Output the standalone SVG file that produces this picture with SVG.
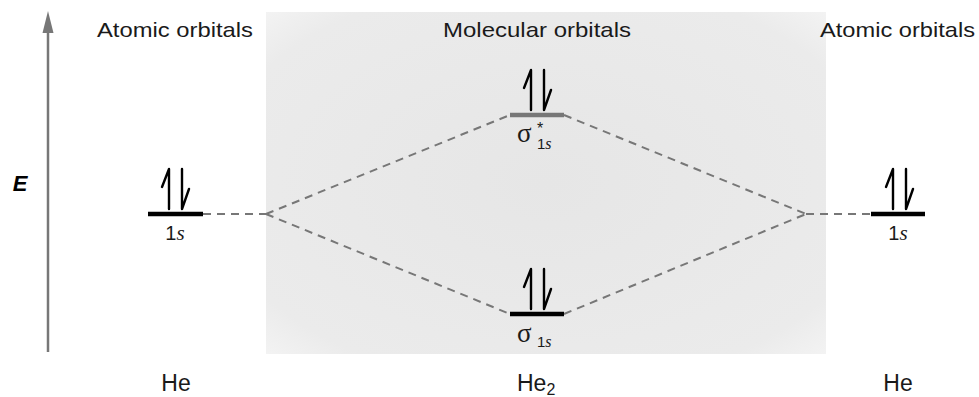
<svg xmlns="http://www.w3.org/2000/svg" width="979" height="397" viewBox="0 0 979 397">
<style>
.t{font-family:"Liberation Sans",Arial,sans-serif;font-size:21px;fill:#1a1a1a}
.lbl{font-family:"Liberation Sans",Arial,sans-serif;font-size:20px;fill:#1a1a1a}
.he{font-family:"Liberation Sans",Arial,sans-serif;font-size:23px;fill:#1a1a1a}
.dash{stroke:#777;stroke-width:2;stroke-dasharray:8,6;fill:none}
.lvl{stroke:#000;stroke-width:4.5}
.spin{stroke:#000;stroke-width:2.4;fill:none;stroke-linecap:round;stroke-linejoin:round}
.it{font-family:"Liberation Serif",serif;font-style:italic}
</style>
<defs>
<radialGradient id="pg" cx="0.5" cy="0.5" r="0.75">
<stop offset="0" stop-color="#e6e6e6"/>
<stop offset="0.8" stop-color="#ebebeb"/>
<stop offset="1" stop-color="#f6f6f6"/>
</radialGradient>
<g id="pair">
<path class="spin" d="M-6,-3 L-6,-43 L-13,-25"/>
<path class="spin" d="M7,-43 L7,-3 L14,-23"/>
</g>
</defs>
<rect x="0" y="0" width="979" height="397" fill="#fff"/>
<g id="panel"><rect x="266" y="12" width="560" height="342" fill="url(#pg)"/></g>
<g id="axis">
<line x1="48" y1="352" x2="48" y2="26" stroke="#777" stroke-width="2.5"/>
<path d="M42.5,33 L48,11 L53.5,33 Z" fill="#777"/>
<text x="20" y="191" font-family="Liberation Sans,Arial,sans-serif" font-size="22" font-weight="bold" font-style="italic" text-anchor="middle">E</text>
</g>
<g id="headers">
<text class="t" x="97" y="37" textLength="156" lengthAdjust="spacingAndGlyphs">Atomic orbitals</text>
<text class="t" x="443" y="37" textLength="188" lengthAdjust="spacingAndGlyphs">Molecular orbitals</text>
<text class="t" x="820" y="37" textLength="155" lengthAdjust="spacingAndGlyphs">Atomic orbitals</text>
</g>
<g id="connectors">
<line class="dash" x1="203" y1="214" x2="266" y2="214"/>
<line class="dash" x1="266" y1="214" x2="510" y2="115"/>
<line class="dash" x1="266" y1="214" x2="510" y2="314"/>
<line class="dash" x1="564" y1="115" x2="806" y2="214"/>
<line class="dash" x1="564" y1="314" x2="806" y2="214"/>
<line class="dash" x1="806" y1="214" x2="871" y2="214"/>
</g>
<g id="he-left-1s">
<line class="lvl" x1="148" y1="214" x2="203" y2="214"/>
<use href="#pair" x="175" y="212"/>
<text class="lbl" x="175" y="240" text-anchor="middle">1<tspan class="it" font-size="21">s</tspan></text>
</g>
<g id="sigma-star">
<line x1="510" y1="115" x2="564" y2="115" stroke="#777" stroke-width="4.5"/>
<use href="#pair" x="537" y="113"/>
<text x="517" y="142" font-family="Liberation Serif,serif" font-size="27" fill="#1a1a1a">σ</text>
<text x="537" y="134" font-family="Liberation Sans,Arial,sans-serif" font-size="16" fill="#1a1a1a">*</text>
<text x="537" y="149" font-family="Liberation Sans,Arial,sans-serif" font-size="15" fill="#1a1a1a">1<tspan class="it" font-size="16">s</tspan></text>
</g>
<g id="sigma">
<line class="lvl" x1="510" y1="314" x2="564" y2="314"/>
<use href="#pair" x="537" y="312"/>
<text x="517" y="342" font-family="Liberation Serif,serif" font-size="27" fill="#1a1a1a">σ</text>
<text x="537" y="347" font-family="Liberation Sans,Arial,sans-serif" font-size="15" fill="#1a1a1a">1<tspan class="it" font-size="16">s</tspan></text>
</g>
<g id="he-right-1s">
<line class="lvl" x1="871" y1="214" x2="925" y2="214"/>
<use href="#pair" x="899" y="212"/>
<text class="lbl" x="898" y="240" text-anchor="middle">1<tspan class="it" font-size="21">s</tspan></text>
</g>
<g id="species">
<text class="he" x="176" y="391" text-anchor="middle">He</text>
<text class="he" x="517" y="391">He<tspan dy="4" font-size="16">2</tspan></text>
<text class="he" x="898" y="391" text-anchor="middle">He</text>
</g>
</svg>
